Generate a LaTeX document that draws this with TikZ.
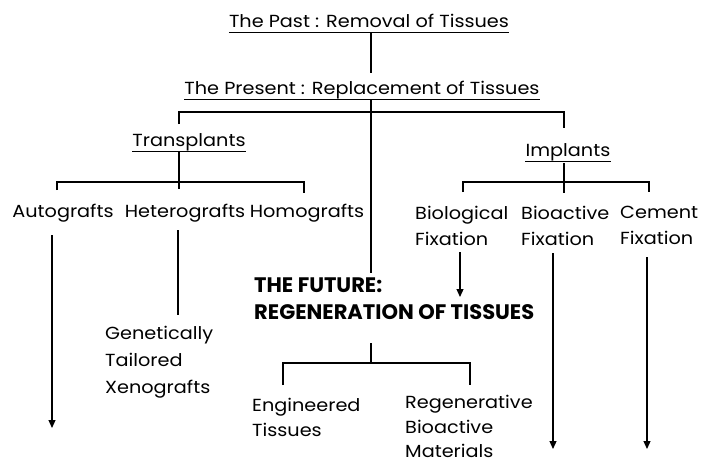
\documentclass[tikz,border=0pt]{standalone}
\usepackage{fontspec}
\setmainfont{Poppins}[FakeStretch=1.1]
\newfontfamily\futfont{Poppins}
\usetikzlibrary{arrows.meta}
\begin{document}
\begin{tikzpicture}[x=1pt,y=-1pt,
  lbl/.style={font=\fontsize{17.5}{26}\selectfont, inner sep=0pt, align=left},
  hdr/.style={lbl, anchor=base},
  bigb/.style={font=\futfont\fontsize{21}{27}\selectfont\bfseries, inner sep=0pt, align=left},
  ln/.style={line width=1.2pt},
  ulw/.style={line width=1.2pt},
  arr/.style={ln,-{Triangle[length=8pt,width=7pt]}}]
\useasboundingbox[fill=white] (0,0) rectangle (710,464);

% headings
\node[hdr] (past) at (369,27) {The Past : Removal of Tissues};
\node[hdr] (present) at (362,94) {The Present : Replacement of Tissues};
\node[hdr] (transplants) at (189,146) {Transplants};
\node[hdr] (implants) at (568,156) {Implants};
\foreach \n in {past,present,transplants,implants}
  \draw[ulw] ([yshift=-5.5pt]\n.base west) -- ([yshift=-5.5pt]\n.base east);

% transplants children
\node[hdr] (auto) at (63,217) {Autografts};
\node[hdr] (hetero) at (185,217) {Heterografts};
\node[hdr] (homo) at (307,217) {Homografts};
\node[lbl, anchor=north west, font=\fontsize{17.5}{27}\selectfont] (gen) at (105,326) {Genetically\\Tailored\\Xenografts};

% implants children
\node[lbl, anchor=north west] (bio) at (415,206) {Biological\\Fixation};
\node[lbl, anchor=north west] (bioact) at (521,206) {Bioactive\\Fixation};
\node[lbl, anchor=north west] (cement) at (620,206) {Cement\\Fixation};

% future
\node[bigb, anchor=north west] (future) at (254,278) {THE FUTURE:\\REGENERATION OF TISSUES};
\node[lbl, anchor=north west, font=\fontsize{17.5}{25}\selectfont] (eng) at (252,398) {Engineered\\Tissues};
\node[lbl, anchor=north west, font=\fontsize{17.5}{24.5}\selectfont] (regen) at (405,395) {Regenerative\\Bioactive\\Materials};

% junction coordinates
\coordinate (mt) at (371,33);
\coordinate (mp) at (371,73);
\coordinate (mq) at (371,100);
\coordinate (mj) at (371,112);
\coordinate (fj) at (371,273);
\coordinate (tj) at (179,112);
\coordinate (tjs) at (179,124);
\coordinate (ij) at (564,112);
\coordinate (ijs) at (564,128);
\coordinate (tt) at (179,152);
\coordinate (tb) at (179,182);
\coordinate (tbs) at (179,189);
\coordinate (tl) at (57,182);
\coordinate (tls) at (57,190);
\coordinate (tr) at (304,182);
\coordinate (trs) at (304,193);
\coordinate (it) at (564,163);
\coordinate (ib) at (564,182);
\coordinate (ibs) at (564,193);
\coordinate (il) at (463,182);
\coordinate (ils) at (463,192);
\coordinate (ir) at (649,182);
\coordinate (irs) at (649,192);
\coordinate (hs) at (178,230);
\coordinate (he) at (178,315);
\coordinate (as) at (52,235);
\coordinate (ae) at (52,428);
\coordinate (bs) at (460,252);
\coordinate (be) at (460,297);
\coordinate (cs) at (553,253);
\coordinate (ce) at (553,449);
\coordinate (ms) at (647,257);
\coordinate (me) at (647,449);
\coordinate (ft) at (371,343);
\coordinate (fb) at (371,363);
\coordinate (fl) at (283,363);
\coordinate (fls) at (283,385);
\coordinate (fr) at (470,363);
\coordinate (frs) at (470,385);

% connectors
\draw[ln] (mt) -- (mp);
\draw[ln] (mq) -- (fj);
\draw[ln] (tjs) -- (tj) -- (ij) -- (ijs);
\draw[ln] (tt) -- (tbs);
\draw[ln] (tls) -- (tl) -- (tr) -- (trs);
\draw[ln] (it) -- (ibs);
\draw[ln] (ils) -- (il) -- (ir) -- (irs);
\draw[ln] (hs) -- (he);
\draw[arr] (as) -- (ae);
\draw[arr] (bs) -- (be);
\draw[arr] (cs) -- (ce);
\draw[arr] (ms) -- (me);
\draw[ln] (ft) -- (fb);
\draw[ln] (fls) -- (fl) -- (fr) -- (frs);
\end{tikzpicture}
\end{document}
